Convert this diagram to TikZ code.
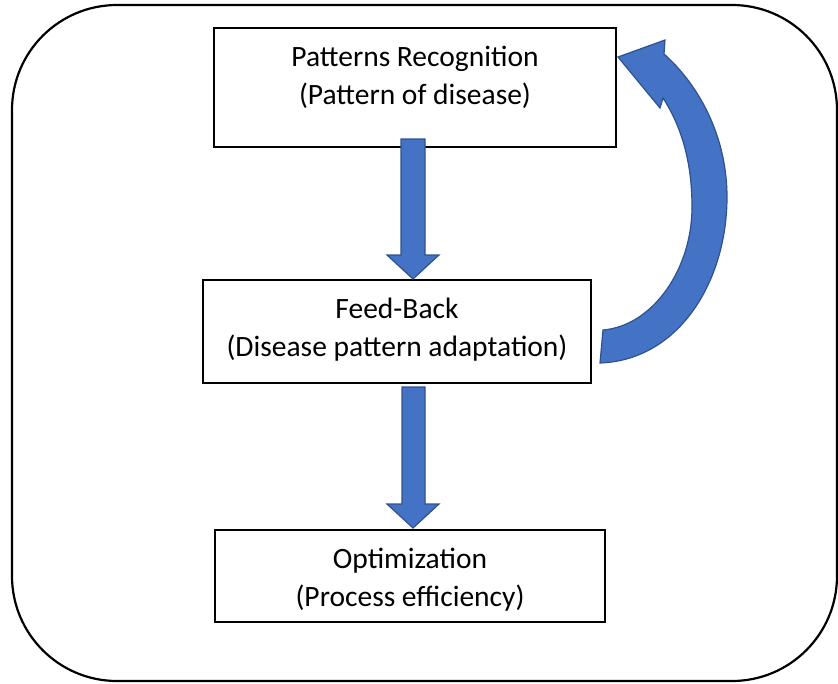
\documentclass[tikz,border=0pt]{standalone}
\usepackage{fontspec}
\setmainfont{Carlito}
\begin{document}
\begin{tikzpicture}[x=1pt,y=-1pt,
  box/.style={draw=black,line width=1.6pt,fill=white,inner sep=0pt},
  lbl/.style={align=center,font=\fontsize{29.5}{38}\selectfont,inner sep=0pt},
  blockarrow/.style={fill=arrowblue,draw=arrowedge,line width=1.2pt,line join=miter}]
\definecolor{arrowblue}{HTML}{4472C4}
\definecolor{arrowedge}{HTML}{2F528F}
\useasboundingbox (0,0) rectangle (838,683);
\draw[line width=2.2pt,rounded corners=105pt] (12,5) rectangle (837,681);

% boxes
\node[box,minimum width=402pt,minimum height=119pt] (b1) at (415,87.5) {};
\node[box,minimum width=388pt,minimum height=103pt] (b2) at (397,331.5) {};
\node[box,minimum width=390pt,minimum height=92pt] (b3) at (410,576) {};

\node[lbl] (t1) at (415,77) {Patterns Recognition\\(Pattern of disease)};
\node[lbl] (t2) at (397,330) {Feed-Back\\(Disease pattern adaptation)};
\node[lbl] (t3) at (410,580) {Optimization\\(Process efficiency)};

% down block arrows
\draw[blockarrow] (401,139) -- (425,139) -- (425,255) -- (439,255) -- (413,279)
  -- (387,255) -- (401,255) -- cycle;
\draw[blockarrow] (402,387) -- (425,387) -- (425,504) -- (439,504) -- (413,528)
  -- (387,504) -- (402,504) -- cycle;

% curved feedback arrow
\draw[blockarrow] (600,363) .. controls (680,360) and (727,280) .. (727,197)
  .. controls (727,140) and (702,88) .. (664,54)
  -- (665,40) -- (618,57) -- (660,108) -- (663,98)
  .. controls (685,132) and (692,170) .. (692,207)
  .. controls (692,270) and (652,326) .. (603,330) -- cycle;
\end{tikzpicture}
\end{document}
